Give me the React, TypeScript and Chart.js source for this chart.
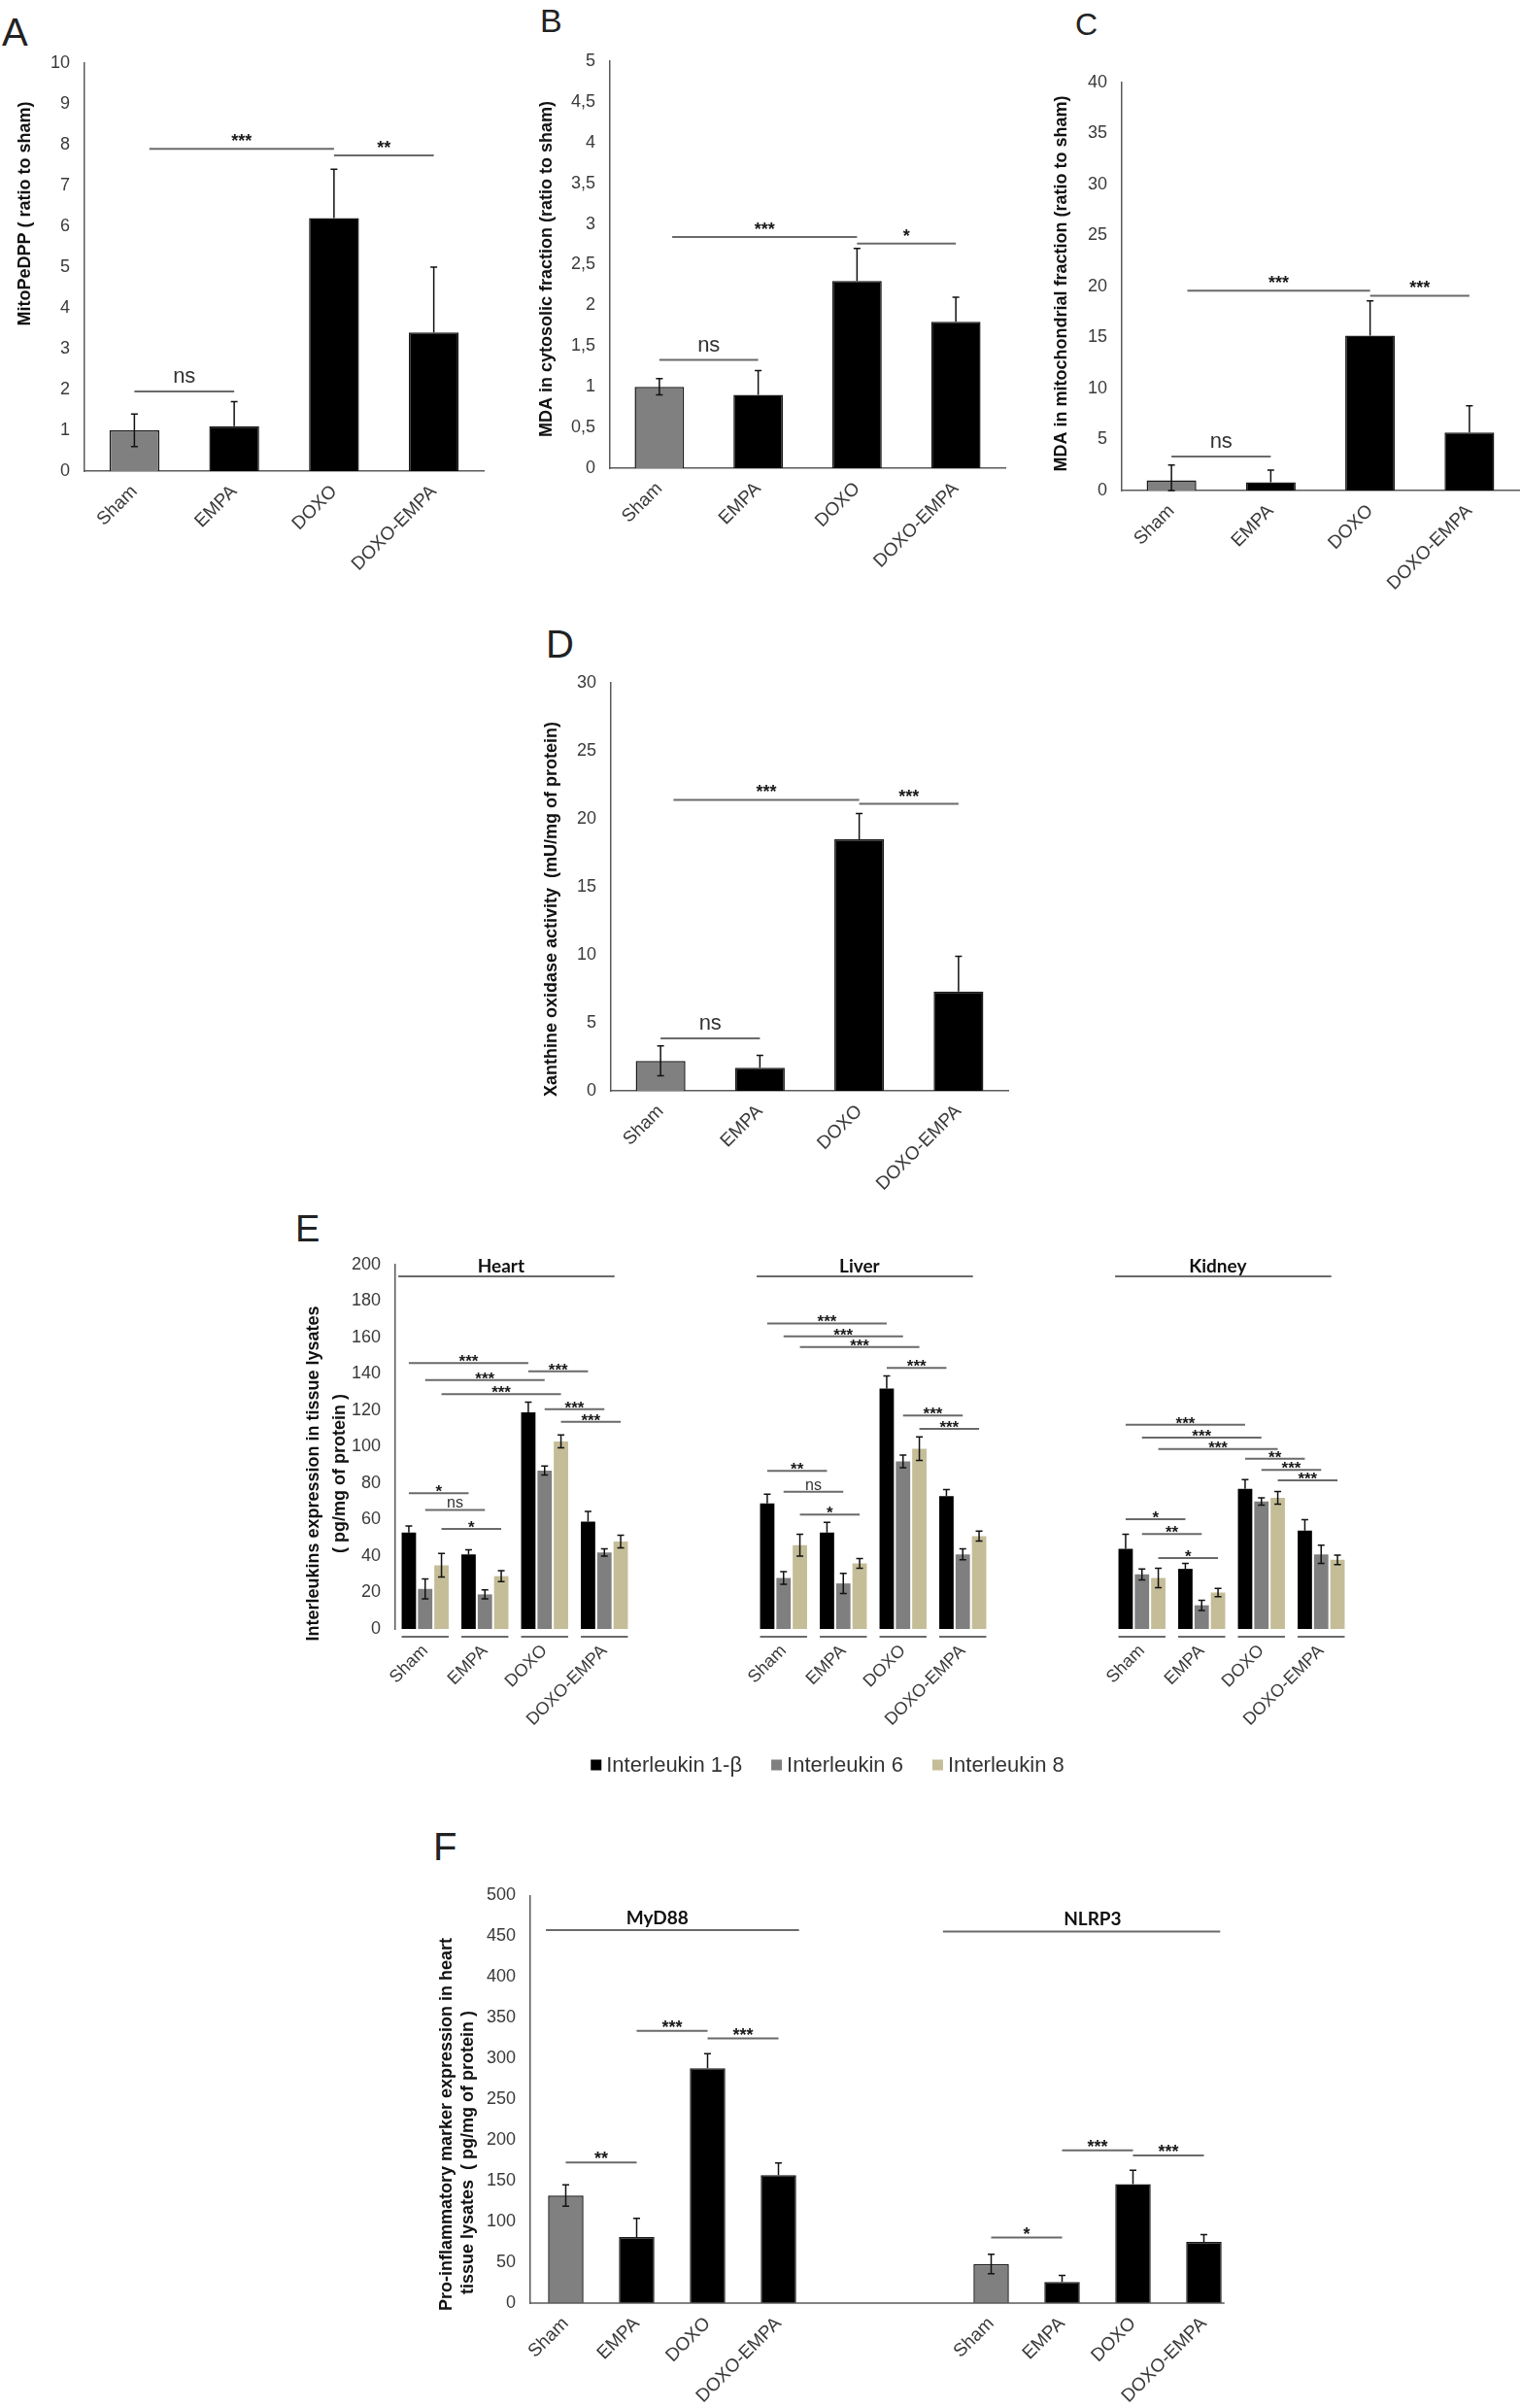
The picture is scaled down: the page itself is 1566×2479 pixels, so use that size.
import React, { useEffect, useRef } from 'react';
import { Chart, registerables } from 'chart.js';

Chart.register(...registerables);

const FONT = "'Liberation Sans', Arial, Helvetica, sans-serif";
const HEAD_FONT = "Lato, 'Open Sans', sans-serif";
Chart.defaults.font.family = FONT;
Chart.defaults.color = '#3a3a3a';

// ---------- shared ----------
const GROUPS = ['Sham', 'EMPA', 'DOXO', 'DOXO-EMPA'];
const GROUP_COLORS = ['#808080', '#000000', '#000000', '#000000'];

type Sig = [number, number, number, string]; // from category, to category, y value, label

// ---------- Panel A ----------
const A_VALUES = [1.0, 1.1, 6.2, 3.4];
const A_ERRORS = [0.4, 0.6, 1.2, 1.6];
const A_TICKS = ['0', '1', '2', '3', '4', '5', '6', '7', '8', '9', '10'];
const A_SIG: Sig[] = [[0, 1, 1.95, 'ns'], [0.15, 2, 7.9, '***'], [2, 3, 7.74, '**']];

// ---------- Panel B ----------
const B_VALUES = [1.0, 0.9, 2.3, 1.8];
const B_ERRORS = [0.1, 0.3, 0.4, 0.3];
const B_TICKS = ['0', '0,5', '1', '1,5', '2', '2,5', '3', '3,5', '4', '4,5', '5'];
const B_SIG: Sig[] = [[0, 1, 1.33, 'ns'], [0.13, 2, 2.84, '***'], [2, 3, 2.76, '*']];

// ---------- Panel C ----------
const C_VALUES = [1.0, 0.8, 15.2, 5.7];
const C_ERRORS = [1.5, 1.2, 3.4, 2.6];
const C_TICKS = ['0', '5', '10', '15', '20', '25', '30', '35', '40'];
const C_SIG: Sig[] = [[0, 1, 3.33, 'ns'], [0.16, 2, 19.6, '***'], [2, 3, 19.1, '***']];

// ---------- Panel D ----------
const D_VALUES = [2.2, 1.7, 18.5, 7.3];
const D_ERRORS = [1.1, 0.9, 1.9, 2.6];
const D_TICKS = ['0', '5', '10', '15', '20', '25', '30'];
const D_SIG: Sig[] = [[0, 1, 3.86, 'ns'], [0.13, 2, 21.4, '***'], [2, 3, 21.1, '***']];

// ---------- Panel E ----------
const TISSUES = ['Heart', 'Liver', 'Kidney'];
const E_SERIES = ['Interleukin 1-\u03B2', 'Interleukin 6', 'Interleukin 8'];
const E_COLORS = ['#000000', '#7F7F7F', '#C4BD97'];
const E_TICKS = ['0', '20', '40', '60', '80', '100', '120', '140', '160', '180', '200'];

const HEART_IL1B = [53, 41, 119, 59];
const HEART_IL6 = [22, 19, 87, 42];
const HEART_IL8 = [35, 29, 103, 48];
const HEART_IL1B_ERR = [3.5, 2.5, 5.5, 5.5];
const HEART_IL6_ERR = [5.5, 2.5, 2.5, 2];
const HEART_IL8_ERR = [6.5, 3, 3.5, 3.5];

const LIVER_IL1B = [69, 53, 132, 73];
const LIVER_IL6 = [28, 25, 92, 41];
const LIVER_IL8 = [46, 36, 99, 51];
const LIVER_IL1B_ERR = [5, 5.5, 7, 3.5];
const LIVER_IL6_ERR = [3.5, 5.5, 3.5, 3];
const LIVER_IL8_ERR = [6, 2.7, 6.5, 2.7];

const KIDNEY_IL1B = [44, 33, 77, 54];
const KIDNEY_IL6 = [30, 13, 70, 41];
const KIDNEY_IL8 = [28, 20, 72, 38];
const KIDNEY_IL1B_ERR = [8, 3, 5, 6];
const KIDNEY_IL6_ERR = [3, 2.8, 2, 5];
const KIDNEY_IL8_ERR = [5.3, 2.3, 3.5, 2.6];

// [tissue, fromGroup, fromSeries, toGroup, toSeries, y value, label]
type ESig = [number, number, number, number, number, number, string];
const E_SIG: ESig[] = [
  [0, 0, 0, 1, 0, 74.5, '*'], [0, 0, 1, 1, 1, 65.4, 'ns'], [0, 0, 2, 1, 2, 54.9, '*'],
  [0, 0, 0, 2, 0, 146, '***'], [0, 0, 1, 2, 1, 136.7, '***'], [0, 0, 2, 2, 2, 128.9, '***'],
  [0, 2, 0, 3, 0, 141.5, '***'], [0, 2, 1, 3, 1, 120.7, '***'], [0, 2, 2, 3, 2, 113.8, '***'],
  [1, 0, 0, 1, 0, 86.8, '**'], [1, 0, 1, 1, 1, 75.4, 'ns'], [1, 0, 2, 1, 2, 62.8, '*'],
  [1, 0, 0, 2, 0, 167.8, '***'], [1, 0, 1, 2, 1, 160.7, '***'], [1, 0, 2, 2, 2, 154.8, '***'],
  [1, 2, 0, 3, 0, 143.3, '***'], [1, 2, 1, 3, 1, 117.2, '***'], [1, 2, 2, 3, 2, 109.9, '***'],
  [2, 0, 0, 1, 0, 60.3, '*'], [2, 0, 1, 1, 1, 52.1, '**'], [2, 0, 2, 1, 2, 38.9, '*'],
  [2, 0, 0, 2, 0, 112.2, '***'], [2, 0, 1, 2, 1, 105.1, '***'], [2, 0, 2, 2, 2, 98.8, '***'],
  [2, 2, 0, 3, 0, 93.5, '**'], [2, 2, 1, 3, 1, 87.3, '***'], [2, 2, 2, 3, 2, 81.6, '***'],
];
const E_HEADER_Y = 193.6;

// ---------- Panel F ----------
const MARKERS = ['MyD88', 'NLRP3'];
const MYD88_VALUES = [132, 81, 288, 157];
const MYD88_ERRORS = [13, 23, 18, 15];
const NLRP3_VALUES = [48, 26, 146, 75];
const NLRP3_ERRORS = [12, 8, 17, 9];
const F_TICKS = ['0', '50', '100', '150', '200', '250', '300', '350', '400', '450', '500'];
const F_SIG: Sig[] = [
  [0, 1, 172.4, '**'], [1, 2, 334, '***'], [2, 3, 324.7, '***'],
  [6, 7, 80.4, '*'], [7, 8, 187.4, '***'], [8, 9, 181.3, '***'],
];
const F_HEADER_Y = [457.7, 456];

// ---------- helpers ----------
const GAP2 = ['', ''];
const nulls2 = [null, null];

type Box = { left: number; top: number; width: number; height: number };
type Area = { l: number; t: number; r: number; b: number };
type Pos = { cat: number; ds?: number };
type Bracket = { from: Pos; to: Pos; y: number; label: string };
type Header = { label: string; from: number; to: number; at: number; y: number };
type AnnotSpec = {
  box: Box;
  errs: (number | null)[][];
  cap: number;
  brackets: Bracket[];
  starFont: string;
  starDy: number;
  nsFont: string;
  nsDy: number;
  headers?: Header[];
  headerFont?: string;
  headerDy?: number;
  underline?: number;
  axisToLastBar?: number;
  yTitle: { lines: string[]; xs: number[]; ys: number[]; font: string };
  legend?: { cx: number; cy: number; font: string; box: number; textGap: number; itemGap: number };
};

const LINE = '#6a6a6a';
const AXIS = '#5a5a5a';
const TICK = '#3a3a3a';

const isBlack = (c: any) => c === '#000' || c === '#000000';

function makeAnnot(s: AnnotSpec) {
  return {
    id: 'annot',
    afterDatasetsDraw(chart: any) {
      const ctx: CanvasRenderingContext2D = chart.ctx;
      const xs = chart.scales.x;
      const ys = chart.scales.y;
      const area = chart.chartArea;
      const ox = s.box.left;
      const oy = s.box.top;
      ctx.save();

      // x axis line ending just after the last bar
      if (s.axisToLastBar != null) {
        const meta = chart.getDatasetMeta(0);
        const last = meta.data[meta.data.length - 1];
        ctx.strokeStyle = AXIS;
        ctx.lineWidth = 1.5;
        ctx.beginPath();
        ctx.moveTo(area.left, area.bottom);
        ctx.lineTo(last.x + last.width / 2 + s.axisToLastBar, area.bottom);
        ctx.stroke();
      }

      // group underlines
      if (s.underline != null) {
        const n = chart.data.datasets.length;
        const m0 = chart.getDatasetMeta(0);
        const mL = chart.getDatasetMeta(n - 1);
        ctx.strokeStyle = LINE;
        ctx.lineWidth = 2;
        chart.data.labels.forEach((_: any, i: number) => {
          if (chart.data.datasets[0].data[i] == null) return;
          const a = m0.data[i];
          const b = mL.data[i];
          const y = area.bottom + s.underline!;
          ctx.beginPath();
          ctx.moveTo(a.x - a.width / 2, y);
          ctx.lineTo(b.x + b.width / 2, y);
          ctx.stroke();
        });
      }

      // error bars
      ctx.strokeStyle = '#111';
      ctx.lineWidth = 1.5;
      chart.data.datasets.forEach((ds: any, d: number) => {
        const meta = chart.getDatasetMeta(d);
        ds.data.forEach((v: number | null, i: number) => {
          const e = s.errs[d] ? s.errs[d][i] : null;
          if (v == null || e == null) return;
          const bg = Array.isArray(ds.backgroundColor) ? ds.backgroundColor[i] : ds.backgroundColor;
          const x = meta.data[i].x;
          const y1 = ys.getPixelForValue(v + e);
          const y0 = ys.getPixelForValue(v);
          const y2 = isBlack(bg) ? y0 : ys.getPixelForValue(Math.max(v - e, 0));
          ctx.beginPath();
          ctx.moveTo(x, y1);
          ctx.lineTo(x, y2);
          ctx.moveTo(x - s.cap, y1);
          ctx.lineTo(x + s.cap, y1);
          if (!isBlack(bg)) {
            ctx.moveTo(x - s.cap, y2);
            ctx.lineTo(x + s.cap, y2);
          }
          ctx.stroke();
        });
      });

      // significance brackets
      const px = (p: Pos) =>
        p.ds == null ? xs.getPixelForValue(p.cat) : chart.getDatasetMeta(p.ds).data[p.cat].x;
      ctx.textAlign = 'center';
      ctx.textBaseline = 'alphabetic';
      s.brackets.forEach((b) => {
        const x1 = px(b.from);
        const x2 = px(b.to);
        const y = ys.getPixelForValue(b.y);
        ctx.strokeStyle = LINE;
        ctx.lineWidth = 2;
        ctx.beginPath();
        ctx.moveTo(x1, y);
        ctx.lineTo(x2, y);
        ctx.stroke();
        const ns = b.label === 'ns';
        ctx.font = ns ? s.nsFont : s.starFont;
        ctx.fillStyle = ns ? '#333' : '#1a1a1a';
        ctx.fillText(b.label, (x1 + x2) / 2, y + (ns ? s.nsDy : s.starDy));
      });

      // headers
      (s.headers || []).forEach((h) => {
        const y = ys.getPixelForValue(h.y);
        ctx.strokeStyle = LINE;
        ctx.lineWidth = 2;
        ctx.beginPath();
        ctx.moveTo(xs.getPixelForValue(h.from), y);
        ctx.lineTo(xs.getPixelForValue(h.to), y);
        ctx.stroke();
        ctx.font = s.headerFont || 'bold 19px ' + HEAD_FONT;
        ctx.fillStyle = '#111';
        ctx.fillText(h.label, xs.getPixelForValue(h.at), y + (s.headerDy || -4));
      });

      // y title
      ctx.font = s.yTitle.font;
      ctx.fillStyle = '#111';
      ctx.textAlign = 'center';
      ctx.textBaseline = 'middle';
      s.yTitle.lines.forEach((line, k) => {
        ctx.save();
        ctx.translate(s.yTitle.xs[k] - ox, s.yTitle.ys[k] - oy);
        ctx.rotate(-Math.PI / 2);
        ctx.fillText(line, 0, 0);
        ctx.restore();
      });

      // legend
      if (s.legend) {
        const L = s.legend;
        ctx.font = L.font;
        const items = chart.data.datasets.map((ds: any) => ({
          label: ds.label,
          color: ds.backgroundColor,
          w: ctx.measureText(ds.label).width,
        }));
        const total =
          items.reduce((acc: number, it: any) => acc + L.box + L.textGap + it.w, 0) +
          L.itemGap * (items.length - 1);
        let x = L.cx - ox - total / 2;
        const cy = L.cy - oy;
        ctx.textAlign = 'left';
        ctx.textBaseline = 'middle';
        items.forEach((it: any) => {
          ctx.fillStyle = it.color;
          ctx.fillRect(x, cy - L.box / 2, L.box, L.box);
          x += L.box + L.textGap;
          ctx.fillStyle = '#333';
          ctx.fillText(it.label, x, cy + 1);
          x += it.w + L.itemGap;
        });
      }
      ctx.restore();
    },
  };
}

function buildConfig(opts: {
  box: Box;
  area: Area;
  max: number;
  step: number;
  ticks: string[];
  labels: string[];
  datasets: any[];
  annot: AnnotSpec;
  xBorder: boolean;
  xFont: number;
  xPad: number;
}) {
  const { box, area } = opts;
  return {
    type: 'bar',
    data: { labels: opts.labels, datasets: opts.datasets },
    options: {
      responsive: false,
      animation: false,
      devicePixelRatio: 1,
      events: [],
      layout: {
        padding: {
          left: 0,
          top: area.t - box.top,
          right: box.left + box.width - area.r,
          bottom: 0,
        },
      },
      plugins: { legend: { display: false }, tooltip: { enabled: false } },
      scales: {
        x: {
          grid: { display: false, drawTicks: false },
          border: { display: opts.xBorder, color: AXIS, width: 1.5 },
          ticks: {
            autoSkip: false,
            minRotation: 45,
            maxRotation: 45,
            padding: opts.xPad,
            color: TICK,
            font: { size: opts.xFont },
          },
          afterFit: (sc: any) => {
            sc.height = box.top + box.height - area.b;
            sc.paddingLeft = 0;
            sc.paddingRight = 0;
          },
        },
        y: {
          min: 0,
          max: opts.max,
          grid: { display: false, drawTicks: false },
          border: { display: true, color: AXIS, width: 1.5 },
          ticks: {
            stepSize: opts.step,
            padding: 15,
            color: TICK,
            font: { size: 18 },
            callback: (_v: any, i: number) => opts.ticks[i],
          },
          afterFit: (sc: any) => {
            sc.width = area.l - box.left;
            sc.paddingTop = 0;
            sc.paddingBottom = 0;
          },
        },
      },
    },
    plugins: [makeAnnot(opts.annot)],
  };
}

function ChartCanvas({ box, config }: { box: Box; config: () => any }) {
  const ref = useRef<HTMLCanvasElement>(null);
  useEffect(() => {
    const chart = new Chart(ref.current as HTMLCanvasElement, config());
    return () => chart.destroy();
  }, []);
  return (
    <canvas
      ref={ref}
      width={box.width}
      height={box.height}
      style={{ position: 'absolute', left: box.left, top: box.top, width: box.width, height: box.height }}
    />
  );
}

const STAR_FONT = 'bold 18px ' + FONT;
const NS_FONT = '22px ' + FONT;
const TITLE_FONT = 'bold 18px ' + FONT;

function simplePanel(
  box: Box,
  area: Area,
  values: number[],
  errors: number[],
  ticks: string[],
  max: number,
  step: number,
  sig: Sig[],
  title: string,
  tx: number,
  ty: number
) {
  return () =>
    buildConfig({
      box,
      area,
      max,
      step,
      ticks,
      labels: GROUPS,
      datasets: [
        {
          label: 'value',
          data: values,
          backgroundColor: GROUP_COLORS,
          borderColor: '#1a1a1a',
          borderWidth: 1.5,
          barPercentage: 0.5,
          categoryPercentage: 1,
        },
      ],
      xBorder: true,
      xFont: 19,
      xPad: 10,
      annot: {
        box,
        errs: [errors],
        cap: 3.5,
        brackets: sig.map(([a, b, y, label]) => ({ from: { cat: a }, to: { cat: b }, y, label })),
        starFont: STAR_FONT,
        starDy: -2,
        nsFont: NS_FONT,
        nsDy: -9,
        yTitle: { lines: [title], xs: [tx], ys: [ty], font: TITLE_FONT },
      },
    });
}

const A_BOX: Box = { left: 0, top: 50, width: 530, height: 580 };
const A_AREA: Area = { l: 87, t: 65, r: 498, b: 485 };
const B_BOX: Box = { left: 530, top: 45, width: 520, height: 585 };
const B_AREA: Area = { l: 628, t: 63, r: 1035, b: 482 };
const C_BOX: Box = { left: 1060, top: 60, width: 506, height: 580 };
const C_AREA: Area = { l: 1155, t: 85, r: 1564, b: 505 };
const D_BOX: Box = { left: 540, top: 680, width: 520, height: 590 };
const D_AREA: Area = { l: 629, t: 703, r: 1038, b: 1123 };
const E_BOX: Box = { left: 300, top: 1285, width: 1110, height: 560 };
const E_AREA: Area = { l: 407, t: 1302, r: 1391, b: 1677 };
const F_BOX: Box = { left: 430, top: 1930, width: 860, height: 549 };
const F_AREA: Area = { l: 546, t: 1951.5, r: 1276, b: 2371 };

const configA = simplePanel(A_BOX, A_AREA, A_VALUES, A_ERRORS, A_TICKS, 10, 1, A_SIG,
  'MitoPeDPP ( ratio to sham)', 26, 220);
const configB = simplePanel(B_BOX, B_AREA, B_VALUES, B_ERRORS, B_TICKS, 5, 0.5, B_SIG,
  'MDA in cytosolic fraction (ratio to sham)', 563, 277);
const configC = simplePanel(C_BOX, C_AREA, C_VALUES, C_ERRORS, C_TICKS, 40, 5, C_SIG,
  'MDA in mitochondrial fraction (ratio to sham)', 1093, 292);
const configD = simplePanel(D_BOX, D_AREA, D_VALUES, D_ERRORS, D_TICKS, 30, 5, D_SIG,
  'Xanthine oxidase activity  (mU/mg of protein)', 568, 936);

const configE = () => {
  const join = (a: number[], b: number[], c: number[]) => [...a, ...nulls2, ...b, ...nulls2, ...c];
  const series = [
    [HEART_IL1B, LIVER_IL1B, KIDNEY_IL1B],
    [HEART_IL6, LIVER_IL6, KIDNEY_IL6],
    [HEART_IL8, LIVER_IL8, KIDNEY_IL8],
  ];
  const errs = [
    [HEART_IL1B_ERR, LIVER_IL1B_ERR, KIDNEY_IL1B_ERR],
    [HEART_IL6_ERR, LIVER_IL6_ERR, KIDNEY_IL6_ERR],
    [HEART_IL8_ERR, LIVER_IL8_ERR, KIDNEY_IL8_ERR],
  ];
  const stride = GROUPS.length + GAP2.length;
  return buildConfig({
    box: E_BOX,
    area: E_AREA,
    max: 200,
    step: 20,
    ticks: E_TICKS,
    labels: [...GROUPS, ...GAP2, ...GROUPS, ...GAP2, ...GROUPS],
    datasets: series.map((s, k) => ({
      label: E_SERIES[k],
      data: join(s[0], s[1], s[2]),
      backgroundColor: E_COLORS[k],
      borderWidth: 0,
      barPercentage: 0.88,
      categoryPercentage: 0.82,
    })),
    xBorder: false,
    xFont: 18,
    xPad: 12,
    annot: {
      box: E_BOX,
      errs: errs.map((e) => join(e[0], e[1], e[2])),
      cap: 3.5,
      brackets: E_SIG.map(([t, g1, s1, g2, s2, y, label]) => ({
        from: { cat: t * stride + g1, ds: s1 },
        to: { cat: t * stride + g2, ds: s2 },
        y,
        label,
      })),
      starFont: 'bold 17px ' + FONT,
      starDy: 4,
      nsFont: '16px ' + FONT,
      nsDy: -2,
      underline: 8,
      headers: TISSUES.map((t, k) => ({
        label: t,
        from: k * stride - 0.45,
        to: k * stride + 3.17,
        at: k * stride + 1.27,
        y: E_HEADER_Y,
      })),
      headerFont: 'bold 19px ' + HEAD_FONT,
      headerDy: -4,
      yTitle: {
        lines: ['Interleukins expression in tissue lysates', '( pg/mg of protein )'],
        xs: [323, 350],
        ys: [1517, 1517],
        font: TITLE_FONT,
      },
      legend: { cx: 852, cy: 1817, font: '22px ' + FONT, box: 11, textGap: 5, itemGap: 30 },
    },
  });
};

const configF = () => {
  const values = [...MYD88_VALUES, ...nulls2, ...NLRP3_VALUES];
  const errors = [...MYD88_ERRORS, ...nulls2, ...NLRP3_ERRORS];
  const colors = [...GROUP_COLORS, '#000', '#000', ...GROUP_COLORS];
  return buildConfig({
    box: F_BOX,
    area: F_AREA,
    max: 500,
    step: 50,
    ticks: F_TICKS,
    labels: [...GROUPS, ...GAP2, ...GROUPS],
    datasets: [
      {
        label: 'value',
        data: values,
        backgroundColor: colors,
        borderColor: '#1a1a1a',
        borderWidth: 1.5,
        barPercentage: 0.5,
        categoryPercentage: 1,
      },
    ],
    xBorder: false,
    xFont: 19,
    xPad: 10,
    annot: {
      box: F_BOX,
      errs: [errors],
      cap: 3.5,
      axisToLastBar: 3,
      brackets: F_SIG.map(([a, b, y, label]) => ({ from: { cat: a }, to: { cat: b }, y, label })),
      starFont: STAR_FONT,
      starDy: 2,
      nsFont: NS_FONT,
      nsDy: -9,
      headers: [
        { label: MARKERS[0], from: -0.28, to: 3.29, at: 1.29, y: F_HEADER_Y[0] },
        { label: MARKERS[1], from: 5.32, to: 9.23, at: 7.43, y: F_HEADER_Y[1] },
      ],
      headerFont: 'bold 19px ' + HEAD_FONT,
      headerDy: -6,
      yTitle: {
        lines: ['Pro-inflammatory marker expression in heart', 'tissue lysates  ( pg/mg of protein )'],
        xs: [460, 482],
        ys: [2187, 2216],
        font: TITLE_FONT,
      },
    },
  });
};

const LETTERS: { t: string; left: number; top: number; size: number }[] = [
  { t: 'A', left: 2, top: 13, size: 40 },
  { t: 'B', left: 556, top: 4, size: 34 },
  { t: 'C', left: 1107, top: 9, size: 32 },
  { t: 'D', left: 562, top: 643, size: 40 },
  { t: 'E', left: 304, top: 1246, size: 38 },
  { t: 'F', left: 446, top: 1881, size: 40 },
];

export default function App() {
  return (
    <div
      style={{
        position: 'absolute',
        left: 0,
        top: 0,
        width: 1566,
        height: 2479,
        background: '#ffffff',
        overflow: 'hidden',
        fontFamily: FONT,
      }}
    >
      {LETTERS.map((l) => (
        <div
          key={l.t}
          style={{
            position: 'absolute',
            left: l.left,
            top: l.top,
            fontSize: l.size,
            lineHeight: 1,
            color: '#222',
          }}
        >
          {l.t}
        </div>
      ))}
      <ChartCanvas box={A_BOX} config={configA} />
      <ChartCanvas box={B_BOX} config={configB} />
      <ChartCanvas box={C_BOX} config={configC} />
      <ChartCanvas box={D_BOX} config={configD} />
      <ChartCanvas box={E_BOX} config={configE} />
      <ChartCanvas box={F_BOX} config={configF} />
    </div>
  );
}
